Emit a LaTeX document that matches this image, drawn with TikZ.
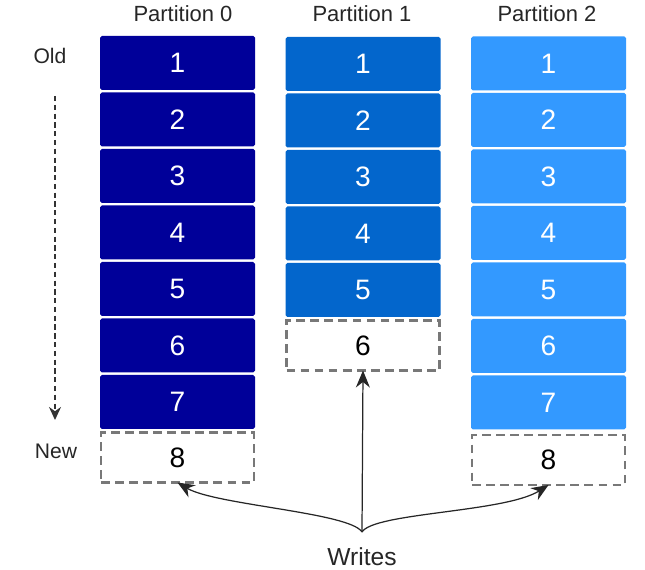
\documentclass[tikz,border=0pt]{standalone}
\usepackage{fontspec}
\setmainfont{Liberation Sans}
\usepackage{tikz}
\usetikzlibrary{arrows.meta, positioning, calc}
\definecolor{partnavy}{RGB}{0, 0, 153}
\definecolor{partmid}{RGB}{3, 102, 204}
\definecolor{partsky}{RGB}{51, 153, 255}
\definecolor{slotgray}{RGB}{120, 120, 120}

\begin{document}
\begin{tikzpicture}[
    cell/.style={rectangle, rounded corners=1pt, minimum width=3.1cm, minimum height=1.08cm,
                 inner sep=0pt, outer sep=0pt, text=white, font=\fontsize{16}{18}\selectfont},
    cellA/.style={cell, fill=partnavy},
    cellB/.style={cell, fill=partmid},
    cellC/.style={cell, fill=partsky},
    slot/.style={rectangle, draw=slotgray, line width=1.3pt, dash pattern=on 5pt off 3pt,
                 minimum width=3.06cm, minimum height=1cm, inner sep=0pt, outer sep=0pt,
                 font=\fontsize{16}{18}\selectfont},
    title/.style={font=\fontsize{12.5}{14}\selectfont, text=black!85},
    side/.style={font=\fontsize{12}{14}\selectfont, text=black!85},
    warr/.style={-{Stealth[length=3.4mm, width=2.8mm]}, line width=0.7pt, black!85},
]
\useasboundingbox (0,0) rectangle (12.9,11.4);

% Partition 0
\node[cellA] (p0c1) at (3.55,10.14) {1};
\node[cellA, below=0.05cm of p0c1] (p0c2) {2};
\node[cellA, below=0.05cm of p0c2] (p0c3) {3};
\node[cellA, below=0.05cm of p0c3] (p0c4) {4};
\node[cellA, below=0.05cm of p0c4] (p0c5) {5};
\node[cellA, below=0.05cm of p0c5] (p0c6) {6};
\node[cellA, below=0.05cm of p0c6] (p0c7) {7};
\node[slot, below=0.07cm of p0c7] (p0s8) {8};

% Partition 1
\node[cellB] (p1c1) at (7.26,10.12) {1};
\node[cellB, below=0.05cm of p1c1] (p1c2) {2};
\node[cellB, below=0.05cm of p1c2] (p1c3) {3};
\node[cellB, below=0.05cm of p1c3] (p1c4) {4};
\node[cellB, below=0.05cm of p1c4] (p1c5) {5};
\node[slot, below=0.07cm of p1c5] (p1s6) {6};

% Partition 2
\node[cellC] (p2c1) at (10.97,10.13) {1};
\node[cellC, below=0.05cm of p2c1] (p2c2) {2};
\node[cellC, below=0.05cm of p2c2] (p2c3) {3};
\node[cellC, below=0.05cm of p2c3] (p2c4) {4};
\node[cellC, below=0.05cm of p2c4] (p2c5) {5};
\node[cellC, below=0.05cm of p2c5] (p2c6) {6};
\node[cellC, below=0.05cm of p2c6] (p2c7) {7};
\node[slot, below=0.11cm of p2c7] (p2s8) {8};

% headings
\node[title] (t0) at (3.66,11.12) {Partition 0};
\node[title] (t1) at (7.24,11.12) {Partition 1};
\node[title] (t2) at (10.94,11.12) {Partition 2};

% old -> new
\node[side] (old) at (1.0,10.28) {Old};
\node[side] (new) at (1.12,2.38) {New};
\coordinate (agetop) at (1.1,9.48);
\coordinate (agebot) at (1.1,3.0);
\draw[-{Stealth[length=2.6mm, width=2.4mm]}, line width=0.9pt, black!80,
      dash pattern=on 3pt off 2pt] (agetop) -- (agebot);

% writes
\node[font=\fontsize{14}{16}\selectfont, text=black!85] (writes) at (7.24,0.26) {Writes};
\coordinate (fork) at (7.24,0.76);
\draw[warr] (fork) -- (p1s6.south);
\draw[warr] (fork) .. controls (7.0,1.15) and (4.3,1.3) .. (p0s8.south);
\draw[warr] (fork) .. controls (7.48,1.15) and (10.1,1.15) .. (p2s8.south);

\end{tikzpicture}
\end{document}
